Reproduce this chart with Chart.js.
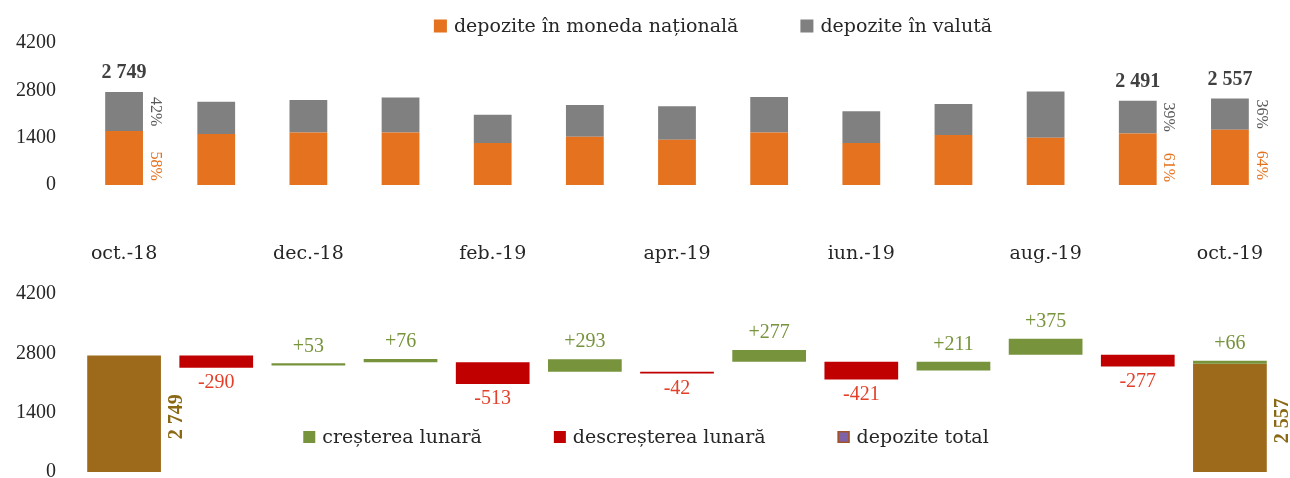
<!DOCTYPE html>
<html><head><meta charset="utf-8">
<script src="https://cdn.jsdelivr.net/npm/chart.js@4.4.1/dist/chart.umd.min.js"></script>
<style>
html,body{margin:0;padding:0;background:#fff;}
#wrap{position:relative;width:1290px;height:478px;overflow:hidden;background:#fff;}
#top{position:absolute;left:0;top:0;}
#bot{position:absolute;left:0;top:270px;}
</style></head><body>
<div id="wrap"><canvas id="top" width="1290" height="265"></canvas><canvas id="bot" width="1290" height="208"></canvas></div>
<script>
// ---- data ----
const categories = ['oct.-18','nov.-18','dec.-18','ian.-19','feb.-19','mar.-19','apr.-19','mai.-19','iun.-19','iul.-19','aug.-19','sep.-19','oct.-19'];
const depMDL    = [1594,1510,1555,1555,1245,1430,1335,1555,1245,1480,1400,1520,1636];
const depValuta = [1155, 949, 957,1033, 830, 938, 991,1048, 937, 913,1368, 971, 921];
const yTicks = [0,1400,2800,4200];
const labelledMonths = [0,11,12];
const startTotal = 2749;
const monthlyChange = [-290,53,76,-513,293,-42,277,-421,211,375,-277,66];
const endTotal = 2557;

const seriesNames = ['depozite în moneda națională','depozite în valută'];
const waterfallNames = ['creșterea lunară','descreșterea lunară','depozite total'];

// ---- style ----
const C_ORANGE='#E4721F', C_GRAY='#808080', C_GREEN='#77933C', C_RED='#C00000', C_BROWN='#9C6A1A';
const NUM_FONT='"Liberation Serif", serif';
const TXT_FONT='"DejaVu Serif", serif';

function fmtThousands(v){return String(v).replace(/\B(?=(\d{3})+(?!\d))/g,' ');}
function rotText(ctx,text,x,y,angle,font,color){ctx.save();ctx.translate(x,y);ctx.rotate(angle);ctx.font=font;ctx.fillStyle=color;ctx.textAlign='center';ctx.textBaseline='middle';ctx.fillText(text,0,0);ctx.restore();}

function makeLegend(id,cx,cy,box,gap,spacing){
  return {id:id, afterDraw(chart){
    const ctx=chart.ctx; ctx.save();
    ctx.font='19px '+TXT_FONT;
    const items=chart.data.datasets.map(ds=>({text:ds.label,fill:ds.legendFill||ds.backgroundColor,stroke:ds.legendStroke}));
    const w=items.map(it=>box+gap+ctx.measureText(it.text).width);
    const total=w.reduce((a,b)=>a+b,0)+spacing*(items.length-1);
    let x=cx-total/2;
    items.forEach((it,i)=>{
      ctx.fillStyle=it.fill; ctx.fillRect(x,cy-box/2,box,box);
      if(it.stroke){ctx.strokeStyle=it.stroke;ctx.lineWidth=1.5;ctx.strokeRect(x+0.75,cy-box/2+0.75,box-1.5,box-1.5);}
      ctx.fillStyle='#262626'; ctx.textAlign='left'; ctx.textBaseline='middle';
      ctx.fillText(it.text,x+box+gap,cy+1);
      x+=w[i]+spacing;
    });
    ctx.restore();
  }};
}

function yAxis(extra){return Object.assign({
  min:0,max:4200,
  afterBuildTicks(s){s.ticks=yTicks.map(v=>({value:v}));},
  afterFit(s){s.width=78;s.paddingTop=0;s.paddingBottom=0;},
  grid:{display:false,drawTicks:false}, border:{display:false},
  ticks:{padding:22,color:'#262626',font:{family:NUM_FONT,size:20},callback:v=>String(v)}
},extra||{});}

// ---- top chart ----
const topLabels={id:'topLabels',afterDatasetsDraw(chart){
  const ctx=chart.ctx; const m0=chart.getDatasetMeta(0), m1=chart.getDatasetMeta(1);
  labelledMonths.forEach(i=>{
    const b0=m0.data[i], b1=m1.data[i];
    const total=depMDL[i]+depValuta[i];
    ctx.save(); ctx.font='bold 20px '+NUM_FONT; ctx.fillStyle='#404040'; ctx.textAlign='center'; ctx.textBaseline='middle';
    ctx.fillText(fmtThousands(total),b1.x,b1.y-19); ctx.restore();
    const right=b0.x+b0.width/2+12;
    rotText(ctx,Math.round(depValuta[i]/total*100)+'%',right,(b1.y+b1.base)/2,Math.PI/2,'16px '+NUM_FONT,'#595959');
    rotText(ctx,Math.round(depMDL[i]/total*100)+'%',right,(b0.y+b0.base)/2+8,Math.PI/2,'16px '+NUM_FONT,C_ORANGE);
  });
}};

new Chart(document.getElementById('top'),{
  type:'bar',
  data:{labels:categories,datasets:[
    {label:seriesNames[0],data:depMDL,backgroundColor:C_ORANGE},
    {label:seriesNames[1],data:depValuta,backgroundColor:C_GRAY}
  ]},
  options:{responsive:false,animation:false,events:[],
    layout:{padding:{top:43,right:14,left:0,bottom:0}},
    datasets:{bar:{barPercentage:0.41,categoryPercentage:1}},
    plugins:{legend:{display:false},tooltip:{enabled:false}},
    scales:{
      x:{stacked:true,grid:{display:false,drawTicks:false},border:{display:false},
        afterFit(s){s.height=80;s.paddingLeft=0;s.paddingRight=0;},
        ticks:{autoSkip:false,maxRotation:0,padding:58,color:'#262626',font:{family:TXT_FONT,size:19},
          callback:(v,i)=> i%2===0?categories[i]:''}},
      y:yAxis({stacked:true})
    }},
  plugins:[topLabels,makeLegend('topLegend',713,26,13,7,62)]
});

// ---- bottom waterfall (increases drawn upward from the new level, as in the original) ----
const totals=categories.map(()=>null);
totals[0]=startTotal; totals[totals.length-1]=endTotal;
const ups=categories.map(()=>null), downs=categories.map(()=>null);
let level=startTotal;
monthlyChange.forEach((d,k)=>{
  const i=k+1; const next=level+d;
  if(d>=0) ups[i]=[next,next+d]; else downs[i]=[level,next];
  level=next;
});

const botLabels={id:'botLabels',afterDatasetsDraw(chart){
  const ctx=chart.ctx;
  const mu=chart.getDatasetMeta(0), md=chart.getDatasetMeta(1), mt=chart.getDatasetMeta(2);
  ctx.save(); ctx.font='20px '+NUM_FONT; ctx.textAlign='center'; ctx.textBaseline='middle';
  monthlyChange.forEach((d,k)=>{
    const i=k+1;
    if(d>=0){const b=mu.data[i]; const top=Math.min(b.y,b.base); ctx.fillStyle=C_GREEN; ctx.fillText('+'+d,b.x,top-17);}
    else {const b=md.data[i]; const bot=Math.max(b.y,b.base); ctx.fillStyle='#E2402A'; ctx.fillText(String(d),b.x,bot+15);}
  });
  ctx.restore();
  [0,categories.length-1].forEach(i=>{
    const b=mt.data[i];
    rotText(ctx,fmtThousands(totals[i]),b.x+b.width/2+16,(b.y+b.base)/2+3,-Math.PI/2,'bold 20px '+NUM_FONT,'#8B6914');
  });
}};

new Chart(document.getElementById('bot'),{
  type:'bar',
  data:{labels:categories,datasets:[
    {label:waterfallNames[0],data:ups,backgroundColor:C_GREEN,grouped:false},
    {label:waterfallNames[1],data:downs,backgroundColor:C_RED,grouped:false},
    {label:waterfallNames[2],data:totals,backgroundColor:C_BROWN,grouped:false,legendFill:'#7E62A8',legendStroke:'#A0522D'}
  ]},
  options:{responsive:false,animation:false,events:[],
    layout:{padding:{top:24,right:14,left:0,bottom:6}},
    datasets:{bar:{barPercentage:0.8,categoryPercentage:1}},
    plugins:{legend:{display:false},tooltip:{enabled:false}},
    scales:{
      x:{display:false},
      y:yAxis()
    }},
  plugins:[botLabels,makeLegend('botLegend',646,167,12,7,72)]
});
</script>
</body></html>
